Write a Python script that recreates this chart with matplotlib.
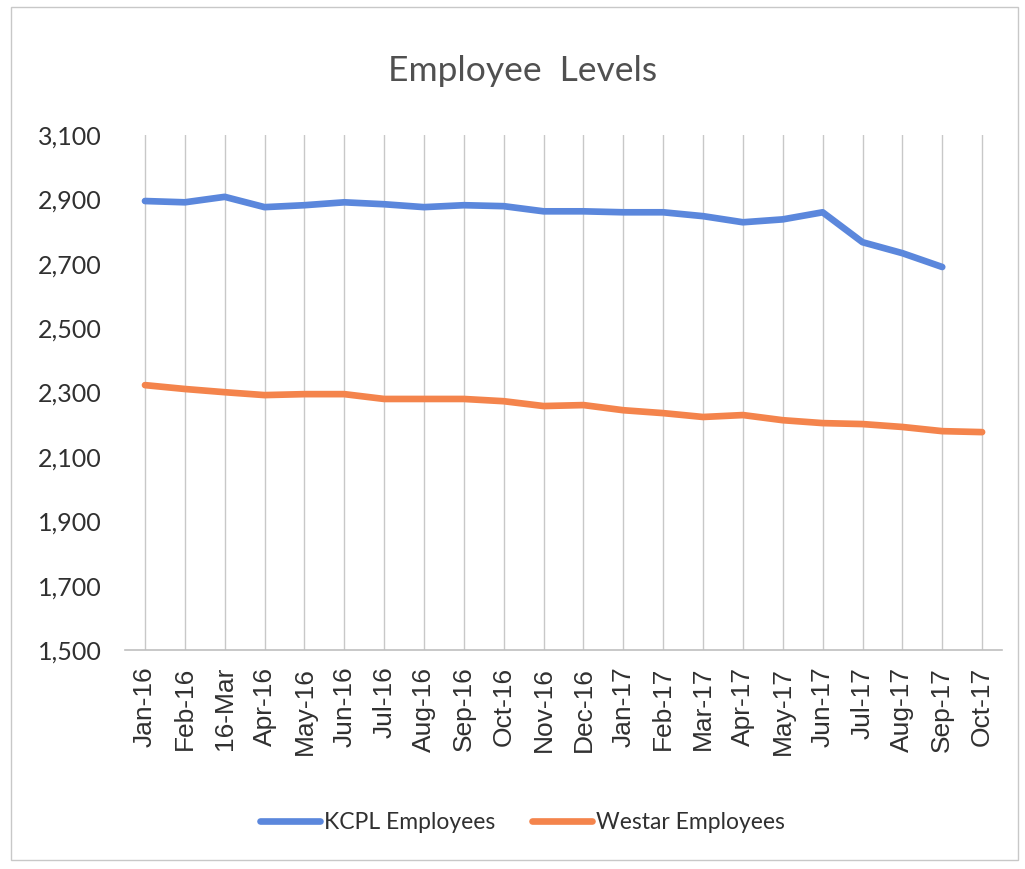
import matplotlib
matplotlib.use("Agg")
import matplotlib.pyplot as plt
from matplotlib.patches import Rectangle

months = ["Jan-16", "Feb-16", "16-Mar", "Apr-16", "May-16", "Jun-16", "Jul-16",
          "Aug-16", "Sep-16", "Oct-16", "Nov-16", "Dec-16", "Jan-17", "Feb-17",
          "Mar-17", "Apr-17", "May-17", "Jun-17", "Jul-17", "Aug-17", "Sep-17",
          "Oct-17"]
kcpl = [2895, 2891, 2908, 2876, 2882, 2891, 2885, 2876, 2882, 2879, 2863,
        2863, 2860, 2860, 2848, 2829, 2838, 2860, 2767, 2733, 2690]
westar = [2323, 2311, 2301, 2292, 2295, 2295, 2280, 2280, 2280, 2273, 2258,
          2261, 2245, 2236, 2224, 2230, 2214, 2205, 2202, 2193, 2180, 2177]
yticks = [1500, 1700, 1900, 2100, 2300, 2500, 2700, 2900, 3100]

NARROW = ["Lato", "DejaVu Sans"]
BLUE, ORANGE = "#5b87dc", "#f4844c"

fig = plt.figure(figsize=(10.25, 8.69), dpi=100)
ax = fig.add_axes([0.122, 0.252, 0.8556, 0.5926])

x = list(range(len(months)))
ax.plot(x[:len(kcpl)], kcpl, color=BLUE, lw=4.8, solid_capstyle="round",
        label="KCPL Employees")
ax.plot(x, westar, color=ORANGE, lw=4.8, solid_capstyle="round",
        label="Westar Employees")

ax.set_xlim(-0.5, len(months) - 0.5)
ax.set_ylim(1500, 3100)
ax.set_yticks(yticks)
ax.set_yticklabels([f"{v:,}" for v in yticks], family=NARROW, fontsize=18,
                   color="#303030")
ax.set_xticks(x)
ax.set_xticklabels(months, rotation=90, family="Liberation Sans", fontsize=19,
                   color="#303030")
ax.tick_params(axis="both", length=0)
ax.tick_params(axis="y", pad=17)
ax.tick_params(axis="x", pad=12)
ax.grid(axis="x", color="#c8c8c8", lw=1.0)
ax.set_axisbelow(True)
for s in ("top", "right", "left"):
    ax.spines[s].set_visible(False)
ax.spines["bottom"].set_color("#bfbfbf")
ax.spines["bottom"].set_linewidth(1.2)

fig.text(0.51, 0.918, "Employee  Levels", ha="center", va="center",
         family=NARROW, fontsize=25.5, color="#505050")

leg = fig.legend(loc="center", bbox_to_anchor=(0.51, 0.054), ncol=2,
                 frameon=False, handlelength=2.6, handletextpad=0.2,
                 columnspacing=1.6, prop={"family": NARROW, "size": 16.5})
for t in leg.get_texts():
    t.set_color("#303030")

fig.patches.append(Rectangle((0.011, 0.01), 0.982, 0.982, transform=fig.transFigure,
                             fill=False, edgecolor="#c8c8c8", lw=1.0))

fig.savefig("out.png", dpi=100)
